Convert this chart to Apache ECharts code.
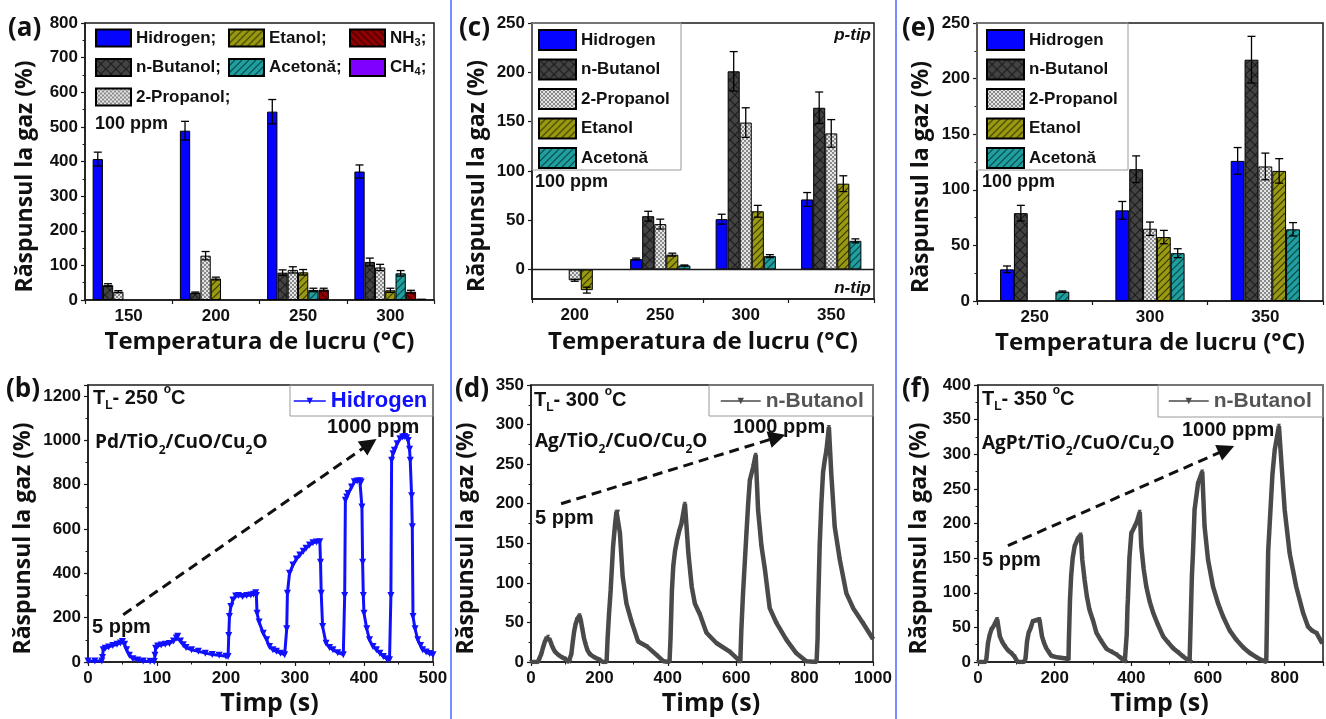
<!DOCTYPE html>
<html><head><meta charset="utf-8">
<script src="https://cdn.jsdelivr.net/npm/echarts@6/dist/echarts.min.js"></script>
<style>
html,body{margin:0;padding:0;background:#fff;width:1326px;height:719px;overflow:hidden}
.p{position:absolute;left:0;top:0;width:1326px;height:719px}
</style></head>
<body>
<div id="pa" class="p"></div><div id="pb" class="p"></div><div id="pc" class="p"></div>
<div id="pd" class="p"></div><div id="pe" class="p"></div><div id="pf" class="p"></div>
<script>
// ---------------- DATA ----------------
// Panel (a)
const catsA = ['150', '200', '250', '300'];
const A_hidrogen = [407, 489, 544, 371];      const A_hidrogen_err = [20, 27, 35, 19];
const A_nbutanol = [43, 21, 79, 110];         const A_nbutanol_err = [4, 2, 8, 11];
const A_propanol = [24, 128, 87, 94];         const A_propanol_err = [3, 12, 9, 9];
const A_etanol   = [null, 62, 80, 28];        const A_etanol_err = [0, 4, 8, 6];
const A_acetona  = [null, null, 29, 77];      const A_acetona_err = [0, 0, 5, 8];
const A_nh3      = [null, null, 30, 24];      const A_nh3_err = [0, 0, 4, 4];
const A_ch4      = [null, null, null, 4];     const A_ch4_err = [0, 0, 0, 0];
// Panel (c)
const catsC = ['200', '250', '300', '350'];
const C_hidrogen = [null, 10.5, 51, 71];      const C_hidrogen_err = [0, 1, 5, 7];
const C_nbutanol = [null, 54, 201, 164];      const C_nbutanol_err = [0, 5, 20, 16];
const C_propanol = [-11, 46, 149, 138];       const C_propanol_err = [1, 5, 15, 14];
const C_etanol   = [-21, 15, 59, 87];         const C_etanol_err = [3, 1.5, 6, 8];
const C_acetona  = [null, 4, 13.5, 29];       const C_acetona_err = [0, 0.5, 1.5, 2];
// Panel (e)
const catsE = ['250', '300', '350'];
const E_hidrogen = [28.5, 81.5, 126];         const E_hidrogen_err = [3, 8, 12];
const E_nbutanol = [79, 118.5, 217];          const E_nbutanol_err = [7, 12, 21];
const E_propanol = [null, 65, 121];           const E_propanol_err = [0, 6, 12];
const E_etanol   = [null, 57.5, 117];         const E_etanol_err = [0, 6, 11];
const E_acetona  = [8.4, 43, 64.5];           const E_acetona_err = [0.6, 4, 6];
// Panel (b) Hidrogen, 250 C
const B_time = [0,10,20,21,22,25,30,36,42,47,50,53,56,60,65,72,80,90,96,
  97,98,101,106,112,118,124,128,130,134,138,142,150,160,170,180,190,200,203,
  204,205,207,210,214,218,224,230,236,240,243,244,245,248,254,259,263,268,273,279,285,
  288,289,292,297,302,307,312,316,321,326,331,336,337,338,340,345,350,355,362,370,
  372,373,375,377,382,386,390,394,396,397,398,399,400,404,408,413,418,423,428,433,437,
  439,440,442,444,448,452,456,459,462,464,466,467,469,470,471,474,478,482,485,490,495,500];
const B_resp = [5,5,5,20,55,62,68,74,80,86,92,80,55,30,15,9,5,3,2,
  30,62,72,77,80,84,95,108,116,95,78,65,55,48,40,34,30,26,25,
  120,205,250,280,298,300,296,300,302,306,312,300,220,180,130,100,70,55,48,40,33,
  150,310,400,438,465,483,500,513,528,538,542,543,450,310,160,85,65,55,42,33,
  300,730,745,760,790,813,817,818,812,700,450,300,220,150,100,70,55,40,25,15,10,
  300,910,940,955,985,1008,1015,1018,1012,1000,960,910,750,610,205,150,100,75,55,45,38,33];
// Panel (d) n-Butanol, 300 C
const D_time = [0,10,20,25,30,35,40,45,50,55,60,65,70,80,90,100,110,115,
  118,122,126,130,135,142,146,150,155,160,165,172,185,200,210,221,
  224,228,233,240,246,250,255,260,268,279,294,313,338,367,387,405,
  408,412,416,421,427,433,440,450,455,460,470,479,494,513,542,581,606,612,
  615,620,625,630,635,640,650,657,664,674,684,698,718,747,776,805,835,
  838,839,844,849,854,859,864,871,878,888,903,922,942,971,1000];
const D_resp = [0,0,0,1,10,18,25,30,32,28,22,17,13,9,6,4,0,0,
  10,25,38,47,54,59,52,42,30,22,15,10,6,3,0,0,
  30,60,91,146,175,190,190,163,108,74,51,26,20,9,1,0,
  30,90,121,140,154,165,175,200,170,138,95,74,60,37,24,13,3,0,
  40,87,125,163,200,230,247,262,192,146,117,68,49,28,11,1,0,
  30,62,146,200,240,255,268,297,238,171,129,87,68,49,29];
// Panel (f) n-Butanol, 350 C
const F_time = [0,10,20,22,26,30,35,43,50,57,64,70,78,87,95,100,105,120,
  124,128,132,138,143,150,160,167,172,178,185,191,204,215,230,236,
  237,240,243,247,252,260,268,272,278,284,291,300,309,322,335,348,361,372,383,386,
  388,390,391,395,400,409,416,422,426,432,439,448,457,470,483,496,509,522,535,552,556,
  558,561,565,574,585,591,600,613,626,639,656,674,692,709,726,743,752,
  755,757,763,768,774,785,791,800,813,830,848,861,872,883,898];
const F_resp = [0,0,0,5,27,38,47,54,62,37,28,23,17,13,8,3,0,0,
  5,30,42,50,59,60,62,37,28,20,14,9,7,6,5,3,
  30,90,124,150,167,178,184,148,119,95,75,60,42,30,19,15,11,6,1,0,
  40,80,90,150,186,196,205,217,167,135,109,87,71,53,37,28,20,14,8,1,0,
  124,160,220,258,275,196,148,109,85,66,46,32,21,13,7,2,0,
  100,160,220,270,306,341,292,220,157,109,71,51,45,42,27];
// Arrow annotations (data coordinates: time, response)
const arrowB = [[51, 213], [408, 985]];
const arrowD = [[88, 200], [720, 284]];
const arrowF = [[78, 168], [648, 307]];

// ---------------- STYLE HELPERS ----------------
const FT = '"Liberation Sans", Arial, sans-serif';
const FO = '"Open Sans", sans-serif';
const AX = '#1a1a1a';

function pat(bg, fg, kind) {
  const s = kind === 'check' ? 4 : (kind === 'cross' ? 10 : 7);
  const c = document.createElement('canvas'); c.width = s; c.height = s;
  const g = c.getContext('2d'); g.fillStyle = bg; g.fillRect(0, 0, s, s);
  if (kind === 'check') { g.fillStyle = fg; g.fillRect(0, 0, 2, 2); g.fillRect(2, 2, 2, 2); }
  else {
    g.strokeStyle = fg; g.lineWidth = 1.2;
    const d = (x1, y1, x2, y2) => { g.beginPath(); g.moveTo(x1, y1); g.lineTo(x2, y2); g.stroke(); };
    if (kind === '/' || kind === 'cross') { d(-1, s + 1, s + 1, -1); d(-1, 1, 1, -1); d(s - 1, s + 1, s + 1, s - 1); }
    if (kind === '\\' || kind === 'cross') { d(-1, -1, s + 1, s + 1); d(s - 1, -1, s + 1, 1); d(-1, s - 1, 1, s + 1); }
  }
  return { image: c, repeat: 'repeat' };
}
const COL = {
  Hidrogen: '#0505ff',
  'n-Butanol': pat('#434343', '#1e1e1e', 'cross'),
  '2-Propanol': pat('#e4e4e4', '#8a8a8a', 'check'),
  Etanol: pat('#9a9a12', '#3a3a00', '/'),
  'Acetonă': pat('#1f9f9f', '#0b4848', '/'),
  NH3: pat('#920000', '#3a0000', '\\'),
  CH4: '#8000ff'
};

function errSeries(vals, errs, n, gap) {
  const data = [];
  vals.forEach((arr, si) => arr.forEach((v, ci) => {
    if (v != null && errs[si][ci] > 0) data.push([ci, v, errs[si][ci], si]);
  }));
  return {
    type: 'custom', silent: true, z: 6, data: data, encode: { x: 0, y: 1 },
    renderItem: function (params, api) {
      const ci = api.value(0), v = api.value(1), e = api.value(2), si = api.value(3);
      const band = api.size([1, 0])[0];
      const gw = band * (1 - gap), bw = gw / n;
      const cx = api.coord([ci, 0])[0] - gw / 2 + bw * (si + 0.5);
      const y1 = api.coord([ci, v + e])[1], y2 = api.coord([ci, v - e])[1];
      const cap = 4, st = { stroke: '#000', lineWidth: 1.3 };
      return { type: 'group', children: [
        { type: 'line', shape: { x1: cx, y1: y1, x2: cx, y2: y2 }, style: st },
        { type: 'line', shape: { x1: cx - cap, y1: y1, x2: cx + cap, y2: y1 }, style: st },
        { type: 'line', shape: { x1: cx - cap, y1: y2, x2: cx + cap, y2: y2 }, style: st }
      ] };
    }
  };
}

const tickLabel = { fontFamily: FT, fontWeight: 'bold', fontSize: 17, color: '#111' };
const yNameStyle = { fontFamily: FO, fontWeight: 'bold', fontSize: 23, color: '#111', padding: [0, 30, 0, 0] };

function yAxisCfg(min, max, interval, gap, extra) {
  return Object.assign({
    type: 'value', min: min, max: max, interval: interval,
    axisLine: { show: true, onZero: false, lineStyle: { color: AX, width: 1.5 } },
    axisTick: { show: true, length: 4, lineStyle: { color: AX, width: 1.2 } },
    minorTick: { show: true, splitNumber: 2, length: 2.5, lineStyle: { color: AX, width: 1 } },
    splitLine: { show: false },
    axisLabel: Object.assign({ margin: 7, formatter: v => (v % interval === 0 && v >= 0 ? String(v) : '') }, tickLabel),
    name: 'Răspunsul la gaz (%)', nameLocation: 'middle', nameGap: gap, nameTextStyle: yNameStyle
  }, extra || {});
}

function rich(size, family, weight) {
  const w = weight || 'bold';
  const sm = Math.round(size * 0.62);
  return {
    t: { fontFamily: family, fontWeight: w, fontSize: size, color: '#111', lineHeight: size + 8 },
    s: { fontFamily: family, fontWeight: w, fontSize: sm, color: '#111', lineHeight: sm, verticalAlign: 'bottom' },
    u: { fontFamily: family, fontWeight: w, fontSize: sm, color: '#111', lineHeight: sm, verticalAlign: 'top' }
  };
}
function txt(x, y, text, size, family, extra, weight) {
  return { type: 'text', x: x, y: y, silent: true, z: 50,
    style: Object.assign({ text: text, fontFamily: family, fontWeight: weight || 'bold', fontSize: size, fill: '#111',
      verticalAlign: 'middle', align: 'left', rich: rich(size, family, weight) }, extra || {}) };
}
function box(x1, y1, x2, y2) {
  return { type: 'rect', silent: true, z: 1, shape: { x: x1, y: y1, width: x2 - x1, height: y2 - y1 },
    style: { fill: 'none', stroke: '#9a9a9a', lineWidth: 1 } };
}

// ---------------- BAR PANELS ----------------
function barPanel(el, cfg) {
  const chart = echarts.init(el);
  const n = cfg.series.length;
  const series = cfg.series.map(s => ({
    type: 'bar', name: s.name, data: s.data, barGap: '0%', barCategoryGap: (cfg.gap * 100) + '%',
    itemStyle: { color: COL[s.name], borderColor: '#000', borderWidth: 1 }, z: 2
  }));
  if (cfg.zeroLine) {
    series[0].markLine = { silent: true, symbol: 'none', label: { show: false }, animation: false,
      lineStyle: { color: AX, width: 1.3, type: 'solid' }, data: [{ yAxis: 0 }] };
  }
  series.push(errSeries(cfg.series.map(s => s.data), cfg.series.map(s => s.err), n, cfg.gap));
  chart.setOption({
    animation: false,
    grid: Object.assign({ show: true, borderColor: AX, borderWidth: 1.5 }, cfg.grid),
    xAxis: {
      type: 'category', data: cfg.cats,
      axisLine: { show: true, onZero: false, lineStyle: { color: AX, width: 1.5 } },
      axisTick: { show: true, length: 4, lineStyle: { color: AX, width: 1.2 } },
      axisLabel: Object.assign({ margin: 8 }, tickLabel),
      name: 'Temperatura de lucru (°C)', nameLocation: 'middle', nameGap: cfg.xGap,
      nameTextStyle: { fontFamily: FO, fontWeight: 'bold', fontSize: 24, color: '#111' }
    },
    yAxis: cfg.yAxis,
    legend: cfg.legend,
    graphic: cfg.graphic,
    series: series
  });
}

const legTxt = Object.assign({ lineHeight: 20 }, tickLabel);

barPanel(document.getElementById('pa'), {
  grid: { left: 85, top: 23, width: 349, height: 277 },
  cats: catsA, gap: 0.175, xGap: 30,
  yAxis: yAxisCfg(0, 800, 100, 48),
  series: [
    { name: 'Hidrogen', data: A_hidrogen, err: A_hidrogen_err },
    { name: 'n-Butanol', data: A_nbutanol, err: A_nbutanol_err },
    { name: '2-Propanol', data: A_propanol, err: A_propanol_err },
    { name: 'Etanol', data: A_etanol, err: A_etanol_err },
    { name: 'Acetonă', data: A_acetona, err: A_acetona_err },
    { name: 'NH3', data: A_nh3, err: A_nh3_err },
    { name: 'CH4', data: A_ch4, err: A_ch4_err }
  ],
  legend: [
    { data: ['Hidrogen', 'n-Butanol', '2-Propanol'], left: 95 },
    { data: ['Etanol', 'Acetonă'], left: 228 },
    { data: ['NH3', 'CH4'], left: 349 }
  ].map(l => Object.assign({
    orient: 'vertical', top: 28, padding: 0, itemWidth: 35, itemHeight: 17, itemGap: 9.5,
    selectedMode: false, icon: 'rect',
    textStyle: Object.assign({ rich: { s: { fontFamily: FT, fontWeight: 'bold', fontSize: 11, lineHeight: 11, color: '#111', verticalAlign: 'bottom' } } }, legTxt),
    formatter: nm => nm === 'NH3' ? 'NH{s|3};' : (nm === 'CH4' ? 'CH{s|4};' : nm + ';')
  }, l)),
  graphic: [
    txt(8, 29, '(a)', 26, FO),
    txt(95, 124, '100 ppm', 18, FT)
  ]
});

const legend5 = (left) => ({
  orient: 'vertical', left: left, top: 29, padding: 0, itemWidth: 37, itemHeight: 20, itemGap: 7.5,
  selectedMode: false, icon: 'rect', textStyle: legTxt,
  data: ['Hidrogen', 'n-Butanol', '2-Propanol', 'Etanol', 'Acetonă']
});

barPanel(document.getElementById('pc'), {
  grid: { left: 532, top: 23, width: 342, height: 276 },
  cats: catsC, gap: 0.295, xGap: 31, zeroLine: true,
  yAxis: yAxisCfg(-30, 250, 50, 43, {
    interval: undefined, minorTick: { show: false },
    axisTick: { show: true, length: 4, lineStyle: { color: AX, width: 1.2 }, customValues: [0, 50, 100, 150, 200, 250] },
    axisLabel: Object.assign({ margin: 7, customValues: [0, 50, 100, 150, 200, 250], formatter: v => (v >= 0 && v % 50 === 0 ? String(v) : '') }, tickLabel)
  }),
  series: [
    { name: 'Hidrogen', data: C_hidrogen, err: C_hidrogen_err },
    { name: 'n-Butanol', data: C_nbutanol, err: C_nbutanol_err },
    { name: '2-Propanol', data: C_propanol, err: C_propanol_err },
    { name: 'Etanol', data: C_etanol, err: C_etanol_err },
    { name: 'Acetonă', data: C_acetona, err: C_acetona_err }
  ],
  legend: legend5(538),
  graphic: [
    box(532, 23, 681, 170),
    txt(459, 29, '(c)', 26, FO),
    txt(535, 182, '100 ppm', 18, FT),
    txt(871, 35, 'p-tip', 17, FT, { align: 'right', fontStyle: 'italic' }),
    txt(871, 288, 'n-tip', 17, FT, { align: 'right', fontStyle: 'italic' })
  ]
});

barPanel(document.getElementById('pe'), {
  grid: { left: 977, top: 23, width: 346, height: 278 },
  cats: catsE, gap: 0.40, xGap: 30,
  yAxis: yAxisCfg(0, 250, 50, 44),
  series: [
    { name: 'Hidrogen', data: E_hidrogen, err: E_hidrogen_err },
    { name: 'n-Butanol', data: E_nbutanol, err: E_nbutanol_err },
    { name: '2-Propanol', data: E_propanol, err: E_propanol_err },
    { name: 'Etanol', data: E_etanol, err: E_etanol_err },
    { name: 'Acetonă', data: E_acetona, err: E_acetona_err }
  ],
  legend: legend5(986),
  graphic: [
    box(977, 23, 1128, 170),
    txt(902, 29, '(e)', 26, FO),
    txt(982, 182, '100 ppm', 18, FT),
    { type: 'line', silent: true, shape: { x1: 451, y1: 0, x2: 451, y2: 719 }, style: { stroke: '#4a66ff', lineWidth: 1.5 } },
    { type: 'line', silent: true, shape: { x1: 896, y1: 0, x2: 896, y2: 719 }, style: { stroke: '#4a66ff', lineWidth: 1.5 } }
  ]
});

// ---------------- LINE PANELS ----------------
function zip(a, b) { return a.map((x, i) => [x, b[i]]); }
function linePanel(el, cfg) {
  const chart = echarts.init(el);
  chart.setOption({
    animation: false,
    grid: Object.assign({ show: true, borderColor: AX, borderWidth: 1.5 }, cfg.grid),
    xAxis: {
      type: 'value', min: 0, max: cfg.xmax, interval: cfg.xint,
      axisLine: { show: true, onZero: false, lineStyle: { color: AX, width: 1.5 } },
      axisTick: { show: true, length: 4, lineStyle: { color: AX, width: 1.2 } },
      minorTick: { show: true, splitNumber: 2, length: 2.5, lineStyle: { color: AX, width: 1 } },
      splitLine: { show: false },
      axisLabel: Object.assign({ margin: 8, formatter: v => (v % cfg.xint === 0 ? String(v) : '') }, tickLabel),
      name: 'Timp (s)', nameLocation: 'middle', nameGap: 29,
      nameTextStyle: { fontFamily: FO, fontWeight: 'bold', fontSize: 25, color: '#111', padding: [0, 0, 0, 18] }
    },
    yAxis: yAxisCfg(0, cfg.ymax, cfg.yint, cfg.yGap),
    legend: {
      left: cfg.legLeft, top: 389, padding: 0, itemWidth: cfg.legIcon, itemHeight: 8, selectedMode: false,
      lineStyle: { width: 1.5 },
      textStyle: { fontFamily: FT, fontWeight: 'bold', fontSize: cfg.legSize, color: cfg.legColor, lineHeight: 24 },
      data: [cfg.name]
    },
    graphic: cfg.graphic,
    series: [{
      type: 'line', name: cfg.name, data: zip(cfg.t, cfg.v),
      symbol: 'triangle', symbolRotate: 180, symbolSize: cfg.sym, showAllSymbol: true,
      lineStyle: { color: cfg.color, width: cfg.lw }, itemStyle: { color: cfg.color },
      markLine: {
        silent: true, animation: false, symbol: ['none', 'triangle'], symbolSize: 17, label: { show: false },
        lineStyle: { color: '#111', width: 3, type: [10, 6] },
        data: [[{ coord: cfg.arrow[0] }, { coord: cfg.arrow[1] }]]
      }
    }]
  });
}

linePanel(document.getElementById('pb'), {
  grid: { left: 88, top: 385, width: 345, height: 277 },
  xmax: 500, xint: 100, ymax: 1250, yint: 200, yGap: 53,
  name: 'Hidrogen', t: B_time, v: B_resp, color: '#1010ff', lw: 3, sym: 7, arrow: arrowB,
  legLeft: 293, legIcon: 32, legSize: 22, legColor: '#1010ff',
  graphic: [
    box(290, 385, 433, 416),
    txt(6, 390, '(b)', 26, FO),
    txt(93, 398, '{t|T}{s|L}{t|- 250 }{u|o}{t|C}', 20, FT),
    txt(95, 443, '{t|Pd/TiO}{s|2}{t|/CuO/Cu}{s|2}{t|O}', 19, FO),
    txt(92, 627, '5 ppm', 20, FT),
    txt(327, 427, '1000 ppm', 20, FT)
  ]
});

linePanel(document.getElementById('pd'), {
  grid: { left: 531, top: 385, width: 342, height: 277 },
  xmax: 1000, xint: 200, ymax: 350, yint: 50, yGap: 53,
  name: 'n-Butanol', t: D_time, v: D_resp, color: '#4a4a4a', lw: 4.5, sym: 4, arrow: arrowD,
  legLeft: 720, legIcon: 40, legSize: 21, legColor: '#555',
  graphic: [
    box(709, 385, 873, 416),
    txt(455, 390, '(d)', 26, FO),
    txt(534, 400, '{t|T}{s|L}{t|- 300 }{u|o}{t|C}', 20, FT),
    txt(535, 442, '{t|Ag/TiO}{s|2}{t|/CuO/Cu}{s|2}{t|O}', 19, FO),
    txt(535, 518, '5 ppm', 20, FT),
    txt(733, 427, '1000 ppm', 20, FT)
  ]
});

linePanel(document.getElementById('pf'), {
  grid: { left: 978, top: 385, width: 345, height: 277 },
  xmax: 900, xint: 200, ymax: 400, yint: 50, yGap: 47,
  name: 'n-Butanol', t: F_time, v: F_resp, color: '#4a4a4a', lw: 4.5, sym: 4, arrow: arrowF,
  legLeft: 1168, legIcon: 40, legSize: 21, legColor: '#555',
  graphic: [
    box(1158, 385, 1323, 417),
    txt(902, 390, '(f)', 26, FO),
    txt(982, 399, '{t|T}{s|L}{t|- 350 }{u|o}{t|C}', 20, FT),
    txt(982, 444, '{t|AgPt/TiO}{s|2}{t|/CuO/Cu}{s|2}{t|O}', 19, FO),
    txt(982, 560, '5 ppm', 20, FT),
    txt(1182, 430, '1000 ppm', 20, FT)
  ]
});
</script>
</body></html>
